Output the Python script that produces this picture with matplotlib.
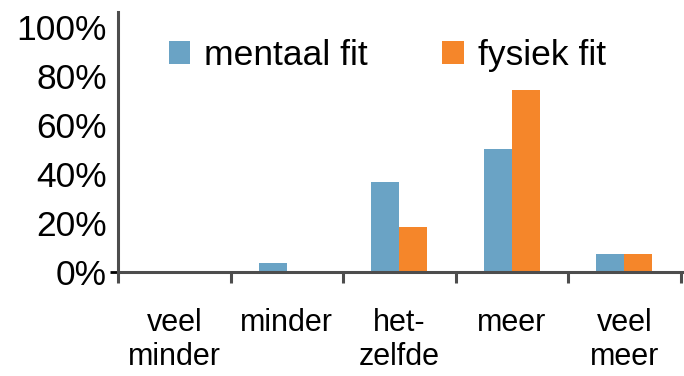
import numpy as np
import matplotlib.pyplot as plt

plt.rcParams['font.family'] = ['Liberation Sans', 'DejaVu Sans']

categories = ["veel\nminder", "minder", "het-\nzelfde", "meer", "veel\nmeer"]
mentaal = [0.0, 3.7, 36.5, 50.0, 7.4]
fysiek = [0.0, 0.0, 18.5, 74.0, 7.4]
yticks = [0, 20, 40, 60, 80, 100]

blue = '#6aa3c5'
orange = '#f5862a'
axcol = '#4d4d4d'

fig = plt.figure(figsize=(6.84, 3.76), dpi=100)
ax = fig.add_axes([118/684, 104/376, 566/684, 260/376])

x = np.arange(len(categories))
w = 0.25
ax.bar(x - w/2, mentaal, w, color=blue, label='mentaal fit')
ax.bar(x + w/2, fysiek, w, color=orange, label='fysiek fit')

ax.set_xlim(-0.5, 4.53)
ax.set_ylim(0, 106)

for s in ['top', 'right']:
    ax.spines[s].set_visible(False)
for s in ['left', 'bottom']:
    ax.spines[s].set_color(axcol)
    ax.spines[s].set_linewidth(2.2)

# category labels centred, tick marks at the boundaries
ax.set_xticks(x)
ax.set_xticklabels(categories, fontsize=22, linespacing=1.17)
ax.tick_params(axis='x', which='major', length=0, pad=26)
ax.set_xticks(np.arange(-0.5, 5, 1), minor=True)
ax.tick_params(axis='x', which='minor', length=8, width=2.2, color=axcol, direction='out')

ax.set_yticks(yticks)
ax.set_yticklabels([f"{v}%" for v in yticks], fontsize=25.5)
ax.tick_params(axis='y', length=0, pad=8)
t0 = ax.yaxis.get_major_ticks()[0].tick1line
t0.set_markersize(6)
t0.set_markeredgewidth(2)
t0.set_color(axcol)

ax.legend(loc='upper center', bbox_to_anchor=(0.476, 1.02), ncol=2, frameon=False,
          fontsize=25.5, handlelength=0.6, handleheight=0.63, handletextpad=0.4,
          columnspacing=2.1)

fig.savefig('out.png', dpi=100)
